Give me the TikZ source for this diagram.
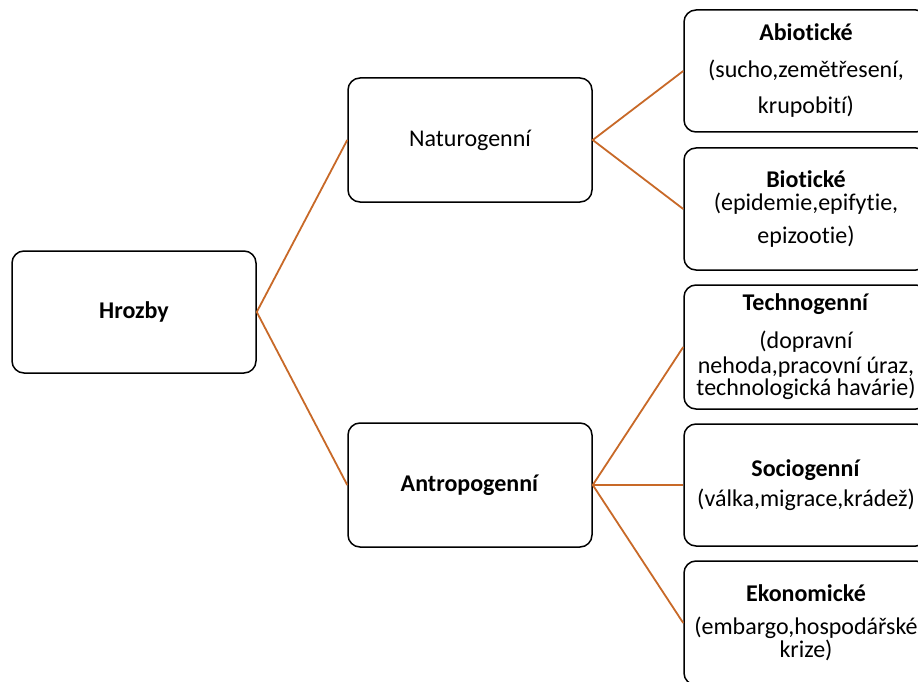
\documentclass[tikz,border=0pt]{standalone}
\usepackage{fontspec}
\setmainfont{Carlito}[Ligatures=NoCommon]
\definecolor{linkc}{RGB}{200,105,40}
\tikzset{
  box/.style={draw=black, line width=1.5pt, rounded corners=12pt, minimum width=244pt, minimum height=122pt, inner sep=0pt, align=center, font=\fontsize{24}{26}\selectfont, anchor=center},
  link/.style={draw=linkc, line width=1.8pt},
}
\begin{document}
\begin{tikzpicture}[x=1pt,y=-1pt]
\clip (0,0) rectangle (918,682);
\fill[white] (0,0) rectangle (918,682);
\node[box] (hrozby) at (134,312) {\textbf{Hrozby}};
\node[box, minimum height=124pt] (nat) at (470,140) {Naturogenní};
\node[box, minimum height=124pt] (ant) at (470,485) {\textbf{Antropogenní}};
\node[box] (abio) at (806,71) {\textbf{Abiotické}\\[11pt](sucho,zemětřesení,\\[10pt]krupobití)};
\node[box] (bio) at (806,209) {\textbf{Biotické}\\[-3pt](epidemie,epifytie,\\[7pt]epizootie)};
\node[box, minimum height=124pt] (tech) at (806,347) {\textbf{Technogenní}\\[12pt](dopravní\\[-1pt]nehoda,pracovní úraz,\\[-4pt]technologická havárie)};
\node[box] (socio) at (806,485) {\textbf{Sociogenní}\\[4pt](válka,migrace,krádež)};
\node[box, minimum height=124pt] (eko) at (806,623) {\textbf{Ekonomické}\\[7pt](embargo,hospodářské\\[-3pt]krize)};
\draw[link] (nat.west) -- (hrozby.east) -- (ant.west);
\draw[link] (abio.west) -- (nat.east) -- (bio.west);
\draw[link] (tech.west) -- (ant.east) -- (eko.west);
\draw[link, line width=2.8pt] (ant.east) -- (socio.west);
\end{tikzpicture}
\end{document}
